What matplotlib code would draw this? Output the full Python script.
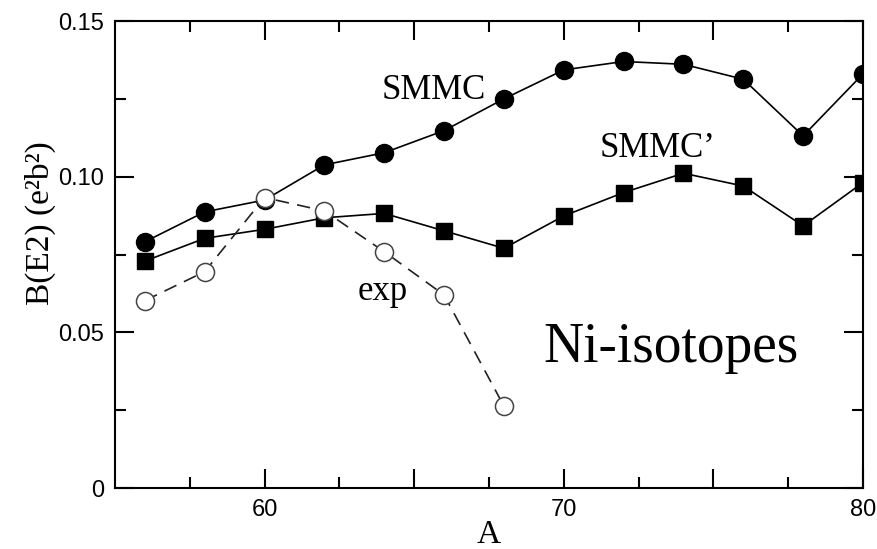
import matplotlib
matplotlib.use("Agg")
import matplotlib.pyplot as plt
from matplotlib.ticker import MultipleLocator, FixedLocator

# mass numbers of the Ni isotopes
a_smmc = [56, 58, 60, 62, 64, 66, 68, 70, 72, 74, 76, 78, 80]
be2_smmc = [0.0791, 0.0887, 0.0925, 0.1038, 0.1077, 0.1148, 0.1250,
            0.1343, 0.1370, 0.1361, 0.1313, 0.1131, 0.1330]

a_smmc_p = [56, 58, 60, 62, 64, 66, 68, 70, 72, 74, 76, 78, 80]
be2_smmc_p = [0.0729, 0.0802, 0.0831, 0.0868, 0.0882, 0.0826, 0.0770,
              0.0874, 0.0949, 0.1011, 0.0970, 0.0842, 0.0981]

a_exp = [56, 58, 60, 62, 64, 66, 68]
be2_exp = [0.0602, 0.0695, 0.0933, 0.0890, 0.0759, 0.0620, 0.0263]

serif = "Liberation Serif"
sans = ["Liberation Sans Narrow", "Liberation Sans"]

fig = plt.figure(figsize=(8.77, 5.49), dpi=100)
ax = fig.add_axes([0.1311, 0.1111, 0.8529, 0.8506])

ax.plot(a_smmc, be2_smmc, color="black", lw=1.2, marker="o", ms=13,
        mfc="black", mec="black", zorder=3)
ax.plot(a_smmc_p, be2_smmc_p, color="black", lw=1.2, marker="s", ms=12,
        mfc="black", mec="black", zorder=3)
ax.plot(a_exp, be2_exp, color="#222222", lw=1.2, ls=(0, (8, 5)), marker="o",
        ms=13, mfc="white", mec="#444444", mew=1.1, zorder=4)

ax.set_xlim(55, 80)
ax.set_ylim(0, 0.15)

# major ticks every 5, labels only every 10
ax.xaxis.set_major_locator(FixedLocator([60, 65, 70, 75, 80]))
ax.set_xticklabels(["60", "", "70", "", "80"])
ax.xaxis.set_minor_locator(FixedLocator([57.5, 62.5, 67.5, 72.5, 77.5]))
ax.yaxis.set_major_locator(FixedLocator([0, 0.05, 0.10, 0.15]))
ax.set_yticklabels(["0", "0.05", "0.10", "0.15"])
ax.yaxis.set_minor_locator(MultipleLocator(0.025))

ax.tick_params(which="both", direction="in", top=True, right=True,
               width=1.5, labelsize=17, pad=8)
ax.tick_params(which="major", length=14)
ax.tick_params(which="minor", length=8)
for lab in ax.get_xticklabels() + ax.get_yticklabels():
    lab.set_fontfamily(sans)
for sp in ax.spines.values():
    sp.set_linewidth(1.5)

ax.set_xlabel("A", fontfamily=serif, fontsize=24, labelpad=-1)
fig.text(40 / 877, 1 - 223 / 549, "B(E2) (e²b²)", rotation=90,
         fontfamily=serif, fontsize=24, ha="center", va="center")

ax.text(63.91, 0.1249, "SMMC", fontfamily=serif, fontsize=25,
        ha="left", va="baseline")
ax.text(71.21, 0.1064, "SMMC\u2019", fontfamily=serif, fontsize=25,
        ha="left", va="baseline")
ax.text(63.12, 0.0604, "exp", fontfamily=serif, fontsize=25,
        ha="left", va="baseline")
ax.text(69.31, 0.0406, "Ni-isotopes", fontfamily=serif, fontsize=40,
        ha="left", va="baseline")

fig.savefig("out.png", dpi=100)
